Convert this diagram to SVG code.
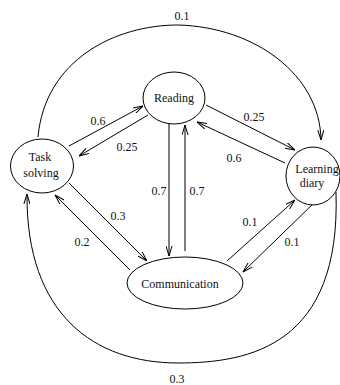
<svg xmlns="http://www.w3.org/2000/svg" width="340" height="385" viewBox="0 0 340 385">
  <style>
    .node ellipse { fill: #fff; stroke: #000; stroke-width: 1; }
    text { font-family: "Liberation Serif", "DejaVu Serif", "Times New Roman", serif; font-size: 12px; fill: #111; text-anchor: middle; }
    .edge { fill: none; stroke: #000; stroke-width: 1; marker-end: url(#arrow); }
  </style>
  <defs>
    <marker id="arrow" viewBox="0 0 10 7" markerWidth="10" markerHeight="7" refX="10" refY="3.5" orient="auto" markerUnits="userSpaceOnUse">
      <path d="M0,0.5 L10,3.5 L0,6.5" fill="none" stroke="#000" stroke-width="1"/>
    </marker>
  </defs>

  <!-- transitions -->
  <g id="connectors">
    <path class="edge" d="M38,137 C45,60 115,25 178,25 C255,27 320,75 321,140"/>
    <path class="edge" d="M336,192 C341,345 250,363 178,363 C95,363 26,315 27,194"/>
    <path class="edge" d="M69,146 L143,106"/>
    <path class="edge" d="M148,115 L79,156"/>
    <path class="edge" d="M206,105 L295,150"/>
    <path class="edge" d="M285,163 L197,122"/>
    <path class="edge" d="M169,124 L169,256"/>
    <path class="edge" d="M185,251 L185,125"/>
    <path class="edge" d="M69,183 L147,261"/>
    <path class="edge" d="M130,270 L55,195"/>
    <path class="edge" d="M227,261 L295,200"/>
    <path class="edge" d="M317,200 L243,272"/>
  </g>

  <!-- transition probabilities -->
  <g id="labels" font-family="Liberation Serif, serif">
    <text x="182" y="20">0.1</text>
    <text x="98" y="125">0.6</text>
    <text x="127" y="151">0.25</text>
    <text x="254" y="121">0.25</text>
    <text x="234" y="162">0.6</text>
    <text x="159" y="195">0.7</text>
    <text x="197" y="195">0.7</text>
    <text x="118" y="220">0.3</text>
    <text x="82" y="246">0.2</text>
    <text x="250" y="226">0.1</text>
    <text x="292" y="246">0.1</text>
    <text x="177" y="383">0.3</text>
  </g>

  <!-- states -->
  <g id="reading" class="node">
    <ellipse cx="174" cy="98" rx="31" ry="26"/>
    <text x="174" y="102">Reading</text>
  </g>
  <g id="task-solving" class="node">
    <ellipse cx="42" cy="166" rx="31.5" ry="27"/>
    <text x="40" y="161">Task</text>
    <text x="41" y="177">solving</text>
  </g>
  <g id="learning-diary" class="node">
    <ellipse cx="313" cy="176" rx="27" ry="29"/>
    <text x="317" y="173">Learning</text>
    <text x="312" y="187">diary</text>
  </g>
  <g id="communication" class="node">
    <ellipse cx="185" cy="283" rx="58" ry="26"/>
    <text x="180" y="288">Communication</text>
  </g>
</svg>
